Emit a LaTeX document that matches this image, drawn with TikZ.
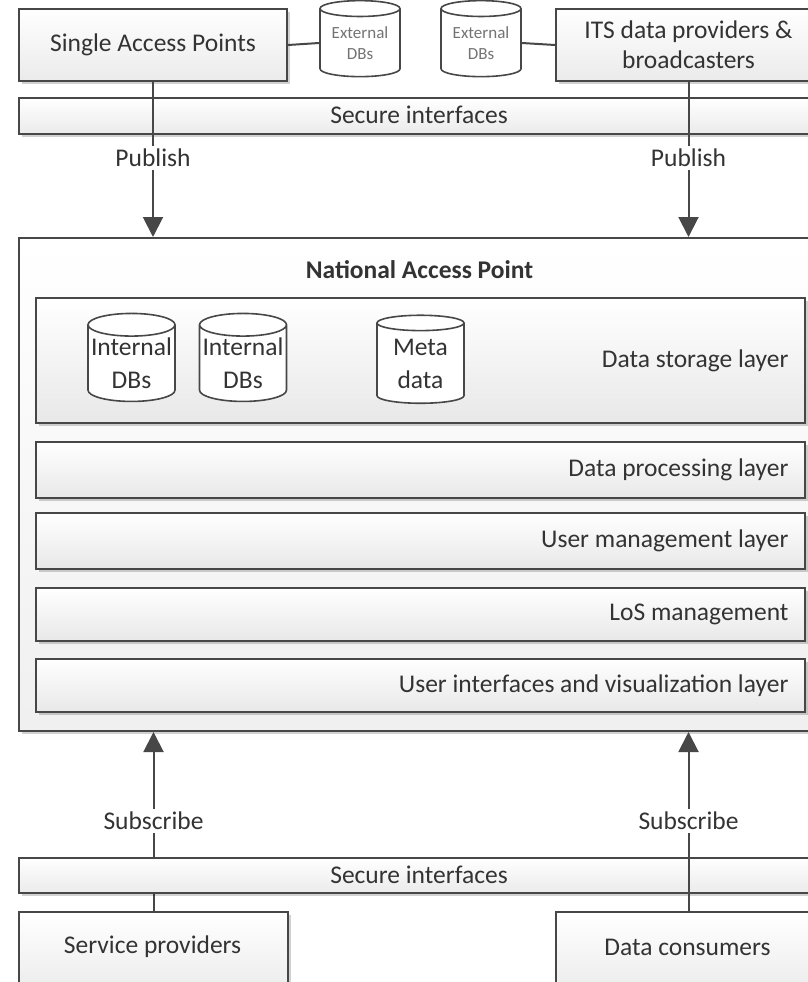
\documentclass[tikz,border=0pt]{standalone}
\usepackage{fontspec}
\setmainfont{Carlito}
\usetikzlibrary{shapes.geometric,arrows.meta,shadows}
\definecolor{edge}{HTML}{474747}
\definecolor{txt}{HTML}{333333}
\begin{document}
\begin{tikzpicture}[x=1pt,y=-1pt,
  every node/.style={font=\fontsize{25.5}{30}\selectfont, text=txt},
  box/.style={rectangle, draw=edge, line width=2pt, top color=white, bottom color=black!8,
    anchor=north west, inner sep=0pt,
    drop shadow={shadow xshift=2.5pt, shadow yshift=-3pt, fill=black, opacity=0.18}},
  layerbox/.style={box, bottom color=black!9},
  db/.style={cylinder, shape border rotate=90, draw=edge, line width=1.6pt, fill=white,
    aspect=0.28, inner sep=0pt, align=center},
  smalldb/.style={db, minimum width=80pt, minimum height=76pt,
    font=\fontsize{17}{21}\selectfont, text=black!55},
  bigdb/.style={db, minimum width=87pt, minimum height=88pt,
    font=\fontsize{25.5}{33}\selectfont},
  conn/.style={draw=edge, line width=2pt},
  arr/.style={conn, -{Triangle[width=20pt,length=20pt]}},
  lbl/.style={fill=white, inner sep=3pt},
  lay/.style={anchor=east}
]
\useasboundingbox (0,0) rectangle (807,982);

% top row
\node[box, minimum width=268pt, minimum height=72pt] (sap) at (18,8) {};
\node (saptext) at (sap.center) {Single Access Points};
\node[box, minimum width=265pt, minimum height=72pt] (its) at (555,8) {};
\node[align=center] (itstext) at (its.center) {ITS data providers \&\\broadcasters};
\node[smalldb] (ext1) at (360,43) {External\\DBs};
\node[smalldb] (ext2) at (481,43) {External\\DBs};
\draw[conn] (sap.east) -- (ext1.west);
\draw[conn] (ext2.east) -- (its.west);

% secure interfaces (top)
\node[box, minimum width=802pt, minimum height=36pt] (sec1) at (18,97) {};
\node (sec1text) at (419,115) {Secure interfaces};

% National access point
\node[box, top color=white, bottom color=black!6, minimum width=810pt, minimum height=493pt] (nap) at (18,237) {};
\node[font=\fontsize{25.5}{30}\selectfont\bfseries] (title) at (419.5,270) {National Access Point};

\node[layerbox, minimum width=769pt, minimum height=125pt] (l1) at (35,297) {};
\node[lay] (l1t) at ([xshift=-14pt]l1.east) {Data storage layer};
\node[bigdb] (idb1) at (131.5,363.5) {Internal\\DBs};
\node[bigdb] (idb2) at (243,363.5) {Internal\\DBs};
\node[bigdb] (meta) at (420.5,363.5) {Meta\\data};

\node[layerbox, minimum width=769pt, minimum height=56pt] (l2) at (35,441) {};
\node[lay] (l2t) at ([xshift=-14pt]l2.east) {Data processing layer};
\node[layerbox, minimum width=769pt, minimum height=56pt] (l3) at (35,512) {};
\node[lay] (l3t) at ([xshift=-14pt]l3.east) {User management layer};
\node[layerbox, minimum width=769pt, minimum height=53pt] (l4) at (35,587) {};
\node[lay] (l4t) at ([xshift=-14pt]l4.east) {LoS management};
\node[layerbox, minimum width=769pt, minimum height=53pt] (l5) at (35,658) {};
\node[lay] (l5t) at ([xshift=-14pt]l5.east) {User interfaces and visualization layer};

% bottom
\node[box, minimum width=269pt, minimum height=85pt] (sp) at (18,911) {};
\node (sptext) at (152.5,947) {Service providers};
\node[box, minimum width=265pt, minimum height=85pt] (dc) at (555,911) {};
\node (dctext) at (687.5,947) {Data consumers};

% connectors
\draw[arr] (sap.south) -- node[lbl, pos=0.49] (pub1) {Publish} (sap.south |- nap.north);
\draw[arr] (its.south) -- node[lbl, pos=0.49] (pub2) {Publish} (its.south |- nap.north);
\draw[arr] (sp.north) -- node[lbl, pos=0.503] (sub1) {Subscribe} (sp.north |- nap.south);

% secure interfaces (bottom), drawn over the left connector
\node[box, minimum width=802pt, minimum height=35pt] (sec2) at (18,857) {};
\node (sec2text) at (419,875) {Secure interfaces};
\draw[arr] (dc.north) -- node[lbl, pos=0.503] (sub2) {Subscribe} (dc.north |- nap.south);
\end{tikzpicture}
\end{document}
